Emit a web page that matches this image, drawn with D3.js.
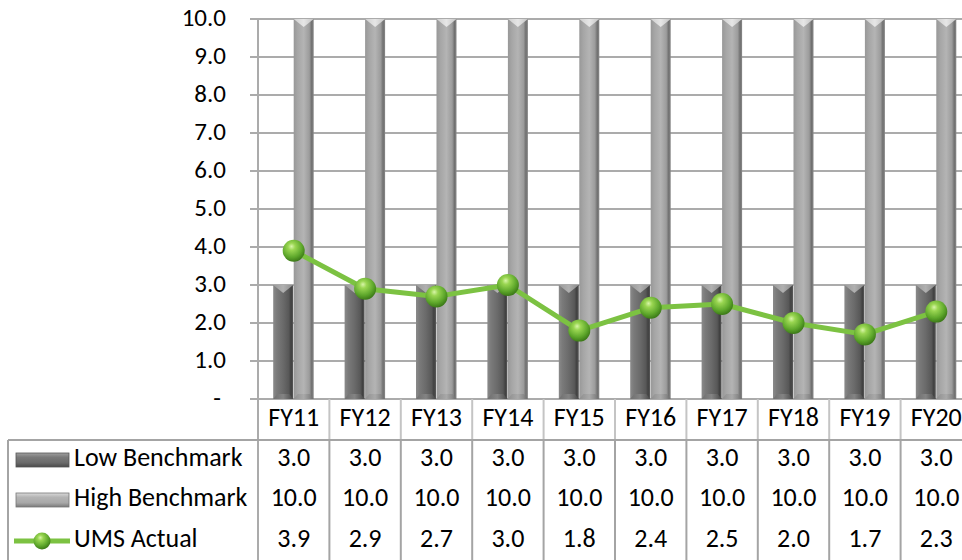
<!DOCTYPE html>
<html>
<head>
<meta charset="utf-8">
<script src="https://cdn.jsdelivr.net/npm/d3@7"></script>
<style>
  html, body { margin: 0; padding: 0; background: #fff; overflow: hidden; }
  svg { display: block; }
  text { font-family: Carlito, Lato, "Open Sans", sans-serif; fill: #000; }
</style>
</head>
<body>
<svg id="chart" width="962" height="560"></svg>
<script>
// ---- data ----
const categories = ["FY11", "FY12", "FY13", "FY14", "FY15", "FY16", "FY17", "FY18", "FY19", "FY20"];
const lowBenchmark = [3.0, 3.0, 3.0, 3.0, 3.0, 3.0, 3.0, 3.0, 3.0, 3.0];
const highBenchmark = [10.0, 10.0, 10.0, 10.0, 10.0, 10.0, 10.0, 10.0, 10.0, 10.0];
const umsActual = [3.9, 2.9, 2.7, 3.0, 1.8, 2.4, 2.5, 2.0, 1.7, 2.3];
const yTicks = [0, 1, 2, 3, 4, 5, 6, 7, 8, 9, 10];
const seriesNames = ["Low Benchmark", "High Benchmark", "UMS Actual"];

// ---- layout ----
const plotLeft = 258, plotRight = 972, plotTop = 19, plotBottom = 399;
const tableLeft = 8, headerBottom = 440;
const rowCenters = [460, 500, 541];
const tickFont = 25, tableFont = 26;

const svg = d3.select("#chart");
const defs = svg.append("defs");

const x = d3.scaleBand().domain(categories).range([plotLeft, plotRight]).paddingInner(0).paddingOuter(0);
const y = d3.scaleLinear().domain([0, 10]).range([plotBottom, plotTop]);
const barW = 20;
const sub = d3.scaleBand().domain(["low", "high"]).range([0, barW * 2 + 1]);
const groupOffset = x.bandwidth() / 2 - (barW * 2 + 1) / 2;

// ---- gradients ----
function hGrad(id, stops) {
  const g = defs.append("linearGradient").attr("id", id)
    .attr("x1", "0").attr("x2", "1").attr("y1", "0").attr("y2", "0");
  stops.forEach(([o, c]) => g.append("stop").attr("offset", o).attr("stop-color", c));
}
hGrad("lowBody", [[0, "#8a8a8a"], [0.18, "#7a7a7a"], [0.5, "#6a6a6a"], [0.78, "#585858"], [0.9, "#404040"], [1, "#5a5a5a"]]);
hGrad("highBody", [[0, "#989898"], [0.2, "#a6a6a6"], [0.5, "#b4b4b4"], [0.78, "#9c9c9c"], [0.9, "#707070"], [1, "#888888"]]);
hGrad("lowTop", [[0, "#9a9a9a"], [0.5, "#b0b0b0"], [1, "#8a8a8a"]]);
hGrad("highTop", [[0, "#cfcfcf"], [0.5, "#e6e6e6"], [1, "#c4c4c4"]]);
hGrad("lowBot", [[0, "#6a6a6a"], [0.5, "#8a8a8a"], [1, "#4a4a4a"]]);
hGrad("highBot", [[0, "#8a8a8a"], [0.5, "#a6a6a6"], [1, "#6c6c6c"]]);

const sphere = defs.append("radialGradient").attr("id", "sphere")
  .attr("cx", "0.42").attr("cy", "0.35").attr("r", "0.65").attr("fx", "0.4").attr("fy", "0.3");
sphere.append("stop").attr("offset", 0).attr("stop-color", "#d8f5a8");
sphere.append("stop").attr("offset", 0.25).attr("stop-color", "#9ad652");
sphere.append("stop").attr("offset", 0.7).attr("stop-color", "#5fa82c");
sphere.append("stop").attr("offset", 1).attr("stop-color", "#3c7a18");

const soft = defs.append("filter").attr("id", "soft").attr("x", "-50%").attr("y", "-50%").attr("width", "200%").attr("height", "200%");
soft.append("feGaussianBlur").attr("stdDeviation", 0.7);

// ---- gridlines and ticks ----
const grid = svg.append("g");
grid.selectAll("line.grid").data(yTicks).join("line")
  .attr("x1", plotLeft - 8).attr("x2", plotRight)
  .attr("y1", d => y(d)).attr("y2", d => y(d))
  .attr("stroke", "#ababab").attr("stroke-width", 2);

svg.append("line")
  .attr("x1", plotLeft).attr("x2", plotLeft)
  .attr("y1", plotTop).attr("y2", 560)
  .attr("stroke", "#ababab").attr("stroke-width", 2);

svg.append("g").selectAll("text").data(yTicks).join("text")
  .attr("x", d => d === 0 ? 221 : 226)
  .attr("y", d => y(d) + 1)
  .attr("text-anchor", "end")
  .attr("dominant-baseline", "middle")
  .attr("font-size", tickFont)
  .text(d => d === 0 ? "-" : d3.format(".1f")(d));

// ---- beveled bars ----
function bevelBar(g, x0, w, yTop, yBot, kind) {
  const xm = x0 + w / 2;
  g.append("rect").attr("x", x0).attr("y", yTop).attr("width", w).attr("height", yBot - yTop)
    .attr("fill", `url(#${kind}Body)`);
  g.append("path")
    .attr("d", `M${x0},${yTop}L${x0 + w},${yTop}L${xm},${yTop + 8}Z`)
    .attr("fill", `url(#${kind}Top)`);
  g.append("path")
    .attr("d", `M${x0},${yBot}L${x0 + w},${yBot}L${x0 + w - 4},${yBot - 5}L${x0 + 4},${yBot - 5}Z`)
    .attr("fill", `url(#${kind}Bot)`).attr("opacity", 0.8);
}

const bars = svg.append("g");
categories.forEach((c, i) => {
  const base = x(c) + groupOffset;
  bevelBar(bars, base + sub("low"), barW, y(lowBenchmark[i]), y(0), "low");
  bevelBar(bars, base + sub("high"), barW, y(highBenchmark[i]), y(0), "high");
});

// ---- UMS Actual line ----
const cx = c => x(c) + x.bandwidth() / 2;
const line = d3.line().x((d, i) => cx(categories[i])).y(d => y(d));
svg.append("path").datum(umsActual)
  .attr("d", line)
  .attr("fill", "none").attr("stroke", "#7cc242").attr("stroke-width", 5)
  .attr("stroke-linejoin", "round");

svg.append("g").selectAll("circle").data(umsActual).join("circle")
  .attr("cx", (d, i) => cx(categories[i]))
  .attr("cy", d => y(d))
  .attr("r", 11)
  .attr("fill", "url(#sphere)")
  .attr("filter", "url(#soft)");

// ---- data table ----
const table = svg.append("g");
// header cell separators
table.selectAll("line.hdr").data(categories).join("line")
  .attr("x1", d => x(d) + x.bandwidth()).attr("x2", d => x(d) + x.bandwidth())
  .attr("y1", plotBottom).attr("y2", headerBottom)
  .attr("stroke", "#c4c4c4").attr("stroke-width", 2);
// body separators
table.selectAll("line.body").data(categories).join("line")
  .attr("x1", d => x(d) + x.bandwidth()).attr("x2", d => x(d) + x.bandwidth())
  .attr("y1", headerBottom).attr("y2", 560)
  .attr("stroke", "#a4a4a4").attr("stroke-width", 2);
table.append("line")
  .attr("x1", tableLeft).attr("x2", plotRight)
  .attr("y1", headerBottom).attr("y2", headerBottom)
  .attr("stroke", "#a4a4a4").attr("stroke-width", 2);
table.append("line")
  .attr("x1", tableLeft).attr("x2", tableLeft)
  .attr("y1", headerBottom).attr("y2", 560)
  .attr("stroke", "#a4a4a4").attr("stroke-width", 2);

table.selectAll("text.cat").data(categories).join("text")
  .attr("x", d => cx(d)).attr("y", 420)
  .attr("text-anchor", "middle").attr("dominant-baseline", "middle")
  .attr("font-size", tableFont).text(d => d);

[lowBenchmark, highBenchmark, umsActual].forEach((vals, r) => {
  table.append("g").selectAll("text").data(vals).join("text")
    .attr("x", (d, i) => cx(categories[i])).attr("y", rowCenters[r])
    .attr("text-anchor", "middle").attr("dominant-baseline", "middle")
    .attr("font-size", tableFont).text(d => d3.format(".1f")(d));
});

// legend keys
const keyX = 16, keyW = 53;
bevelKey(rowCenters[0], "low");
bevelKey(rowCenters[1], "high");
function bevelKey(cy, kind) {
  const g = table.append("g");
  const y0 = cy - 7, h = 14;
  const vg = defs.append("linearGradient").attr("id", kind + "Key")
    .attr("x1", 0).attr("x2", 0).attr("y1", 0).attr("y2", 1);
  const cols = kind === "low"
    ? [[0, "#a0a0a0"], [0.3, "#7a7a7a"], [0.7, "#6a6a6a"], [1, "#4a4a4a"]]
    : [[0, "#dadada"], [0.3, "#b4b4b4"], [0.7, "#a8a8a8"], [1, "#7a7a7a"]];
  cols.forEach(([o, c]) => vg.append("stop").attr("offset", o).attr("stop-color", c));
  g.append("rect").attr("x", keyX).attr("y", y0).attr("width", keyW).attr("height", h)
    .attr("fill", `url(#${kind}Key)`).attr("stroke", kind === "low" ? "#555" : "#777").attr("stroke-width", 0.8);
}
table.append("line")
  .attr("x1", 14).attr("x2", 70).attr("y1", rowCenters[2]).attr("y2", rowCenters[2])
  .attr("stroke", "#7cc242").attr("stroke-width", 5);
table.append("circle").attr("cx", 42).attr("cy", rowCenters[2]).attr("r", 8.5)
  .attr("fill", "url(#sphere)").attr("filter", "url(#soft)");

table.selectAll("text.leg").data(seriesNames).join("text")
  .attr("x", 74).attr("y", (d, i) => rowCenters[i])
  .attr("dominant-baseline", "middle")
  .attr("font-size", tableFont).text(d => d);
</script>
</body>
</html>
